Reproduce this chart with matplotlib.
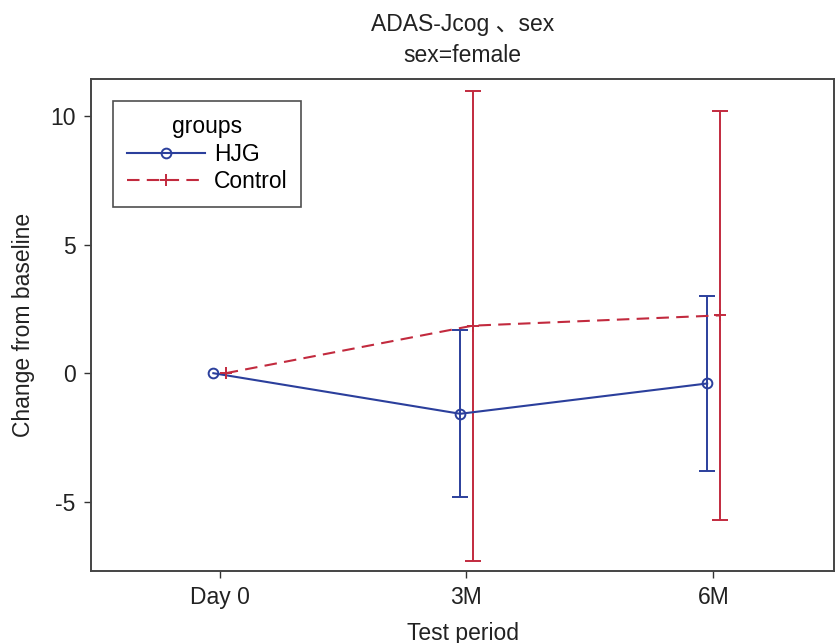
import matplotlib
matplotlib.use('Agg')
import matplotlib.pyplot as plt
import numpy as np

plt.rcParams['font.family'] = ['Liberation Sans', 'Noto Sans CJK SC', 'DejaVu Sans']

periods = ['Day 0', '3M', '6M']
hjg_mean = [0.0, -1.58, -0.40]
hjg_err = [0.0, 3.25, 3.42]
ctrl_mean = [0.0, 1.85, 2.25]
ctrl_err = [0.0, 9.15, 7.95]

blue = '#2B3F9C'
red = '#C22A3E'

fig = plt.figure(figsize=(8.36, 6.43), dpi=100)
ax = fig.add_axes([0.109, 0.112, 0.889, 0.765])

x = np.arange(len(periods))
off = 0.025

ax.errorbar(x[1:] - off, hjg_mean[1:], yerr=hjg_err[1:], fmt='none',
            ecolor=blue, elinewidth=1.4, capsize=5.5, capthick=1.4)
ax.errorbar(x[1:] + off, ctrl_mean[1:], yerr=ctrl_err[1:], fmt='none',
            ecolor=red, elinewidth=1.4, capsize=5.5, capthick=1.4)
ax.plot(x - off, hjg_mean, color=blue, lw=1.5, marker='o', ms=7,
        mfc='none', mec=blue, mew=1.4, label='HJG')
ax.plot(x + off, ctrl_mean, color=red, lw=1.5, ls=(0, (6, 3.5)), marker='+',
        ms=9, mec=red, mew=1.4, label='Control')

ax.set_xlim(-0.52, 2.49)
ax.set_ylim(-7.7, 11.45)
ax.set_xticks(x)
ax.set_xticklabels(periods)
ax.set_yticks([-5, 0, 5, 10])
ax.set_yticklabels(['-5', '0', '5', '10'])
ax.tick_params(direction='out', length=5, width=1, colors='#333333',
               labelsize=16.5, labelcolor='#222222', pad=6)
for s in ax.spines.values():
    s.set_color('#444444')
    s.set_linewidth(1.4)

ax.set_xlabel('Test period', fontsize=16.5, color='#222222', labelpad=9)
ax.set_ylabel('Change from baseline', fontsize=16.5, color='#222222', labelpad=11)
ax.set_title('ADAS-Jcog 、sex\nsex=female', fontsize=16.5, color='#222222',
             pad=12, linespacing=1.45)

leg = ax.legend(title='groups', loc='upper left', fontsize=16.5,
                title_fontsize=16.5, frameon=True, fancybox=False,
                edgecolor='#222222', handlelength=3.4, handletextpad=0.4,
                borderpad=0.6, labelspacing=0.2, borderaxespad=0,
                bbox_to_anchor=(0.0296, 0.955))
leg.get_frame().set_linewidth(1.2)

fig.savefig('out.png', dpi=100)
